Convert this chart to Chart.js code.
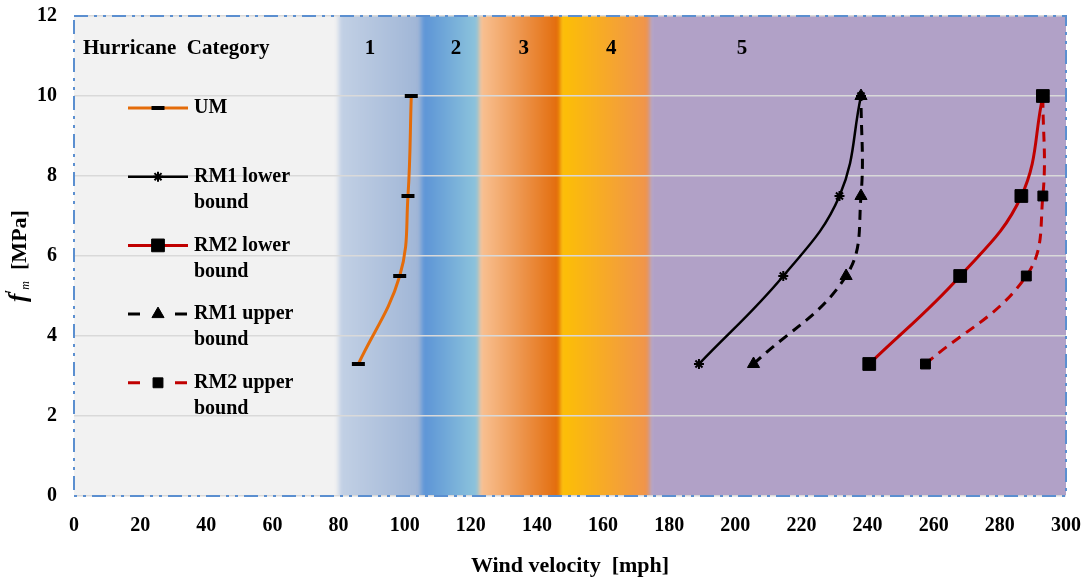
<!DOCTYPE html>
<html>
<head>
<meta charset="utf-8">
<script src="https://cdn.jsdelivr.net/npm/chart.js@4.4.1/dist/chart.umd.min.js"></script>
<style>
    html, body { margin: 0; padding: 0; background: #fff; }
</style>
</head>
<body>
<canvas id="graficoVento" width="1087" height="582"></canvas>
<script>
// f'm levels (MPa) shared by every series
const fm = [3.3, 5.5, 7.5, 10];
// wind velocity (mph) for each series, same order as fm
const umVento = [86, 98.5, 101, 102];
const rm1Inferior = [189, 214.5, 231.5, 238];
const rm2Inferior = [240.5, 268, 286.5, 293];
const rm1Superior = [205.5, 233.5, 238, 238];
const rm2Superior = [257.5, 288, 293, 293];

// hurricane category limits (mph) and their names
const limitesCategoria = [80, 105, 122.5, 147, 174, 300];
const categorias = ['1', '2', '3', '4', '5'];
// where each category number sits along the x axis
const posicaoCategoria = [89.5, 115.5, 136, 162.5, 202];

const coresFaixa = [
    ['#c3d1e5', '#9fb5d6'],
    ['#5a92d6', '#8fc6dc'],
    ['#f9c396', '#e26a08'],
    ['#fdc003', '#f0934e'],
    ['#b1a1c7', '#b1a1c7']
];

const serif = "'Times New Roman', 'Liberation Serif', serif";

function pontos(xs) {
    return fm.map((y, i) => ({ x: xs[i], y: y }));
}

// colored category bands behind the plot
const faixas = {
    id: 'faixas',
    beforeDraw(chart) {
        const { ctx, chartArea: a, scales: { x } } = chart;
        ctx.save();
        ctx.beginPath();
        ctx.rect(a.left, a.top, a.width, a.height);
        ctx.clip();
        ctx.filter = 'blur(2px)';
        ctx.fillStyle = '#f2f2f2';
        const x0 = x.getPixelForValue(limitesCategoria[0]);
        ctx.fillRect(a.left - 20, a.top - 20, x0 - a.left + 24, a.height + 40);
        for (let i = 0; i < categorias.length; i++) {
            const xa = x.getPixelForValue(limitesCategoria[i]);
            const xb = x.getPixelForValue(limitesCategoria[i + 1]);
            const g = ctx.createLinearGradient(xa, 0, xb, 0);
            g.addColorStop(0, coresFaixa[i][0]);
            g.addColorStop(1, coresFaixa[i][1]);
            ctx.fillStyle = g;
            const extra = i === categorias.length - 1 ? 20 : 4;
            ctx.fillRect(xa, a.top - 20, xb - xa + extra, a.height + 40);
        }
        ctx.restore();
    }
};

// dash-dot frame, legend, category numbers and axis titles
const textos = {
    id: 'textos',
    afterDraw(chart) {
        const { ctx, chartArea: a, scales: { x } } = chart;
        ctx.save();

        ctx.strokeStyle = '#5b8fd0';
        ctx.lineWidth = 2;
        ctx.setLineDash([14, 6, 3, 6, 3, 6]);
        ctx.strokeRect(a.left, a.top, a.width, a.height);
        ctx.setLineDash([]);

        ctx.fillStyle = '#000';
        ctx.textBaseline = 'middle';
        ctx.font = 'bold 21px ' + serif;
        ctx.textAlign = 'left';
        ctx.fillText('Hurricane  Category', 83, 49);
        ctx.textAlign = 'center';
        categorias.forEach((c, i) => {
            ctx.fillText(c, x.getPixelForValue(posicaoCategoria[i]), 49);
        });

        // legend
        chart.data.datasets.forEach((ds, i) => {
            const y = 108 + i * 68.7;
            ctx.save();
            ctx.strokeStyle = ds.borderColor;
            ctx.lineWidth = ds.borderWidth;
            ctx.setLineDash(ds.borderDash ? [12, 35] : []);
            ctx.beginPath();
            ctx.moveTo(128, y);
            ctx.lineTo(188, y);
            ctx.stroke();
            ctx.setLineDash([]);
            ctx.strokeStyle = ds.pointBorderColor;
            ctx.fillStyle = ds.pointBackgroundColor;
            ctx.lineWidth = ds.pointBorderWidth;
            Chart.helpers.drawPoint(ctx, {
                pointStyle: ds.pointStyle,
                radius: ds.pointRadius,
                borderWidth: ds.pointBorderWidth,
                rotation: 0
            }, 158, y);
            ctx.restore();

            ctx.fillStyle = '#000';
            ctx.font = 'bold 20px ' + serif;
            ctx.textAlign = 'left';
            const corte = ds.label.lastIndexOf(' bound');
            if (corte > 0) {
                ctx.fillText(ds.label.slice(0, corte), 194, y);
                ctx.fillText('bound', 194, y + 26);
            } else {
                ctx.fillText(ds.label, 194, y);
            }
        });

        // x axis title
        ctx.textAlign = 'center';
        ctx.font = 'bold 22px ' + serif;
        ctx.fillText('Wind velocity  [mph]', (a.left + a.right) / 2, 566);

        // y axis title: f'm [MPa]
        const partes = [
            { t: 'f', f: 'italic bold 25px ' + serif, dy: 0 },
            { t: '\u2032', f: 'bold 14px ' + serif, dy: -9 },
            { t: 'm', f: 'italic 12px ' + serif, dy: 6 },
            { t: '  [MPa]', f: 'bold 22px ' + serif, dy: 0 }
        ];
        let total = 0;
        partes.forEach(p => { ctx.font = p.f; p.w = ctx.measureText(p.t).width; total += p.w; });
        ctx.translate(20, (a.top + a.bottom) / 2);
        ctx.rotate(-Math.PI / 2);
        ctx.textAlign = 'left';
        let px = -total / 2;
        partes.forEach(p => {
            ctx.font = p.f;
            ctx.fillText(p.t, px, p.dy);
            px += p.w;
        });

        ctx.restore();
    }
};

const ctx = document.getElementById('graficoVento').getContext('2d');

const graficoVento = new Chart(ctx, {
    type: 'scatter',
    data: {
        datasets: [
            {
                label: 'UM',
                data: pontos(umVento),
                showLine: true,
                tension: 0.4,
                borderColor: '#e46c0a',
                borderWidth: 3,
                pointStyle: 'line',
                pointRadius: 6.5,
                pointBorderWidth: 4,
                pointBorderColor: '#000',
                pointBackgroundColor: '#000'
            },
            {
                label: 'RM1 lower bound',
                data: pontos(rm1Inferior),
                showLine: true,
                tension: 0.4,
                borderColor: '#000',
                borderWidth: 2.5,
                pointStyle: 'star',
                pointRadius: 5,
                pointBorderWidth: 2,
                pointBorderColor: '#000',
                pointBackgroundColor: '#000'
            },
            {
                label: 'RM2 lower bound',
                data: pontos(rm2Inferior),
                showLine: true,
                tension: 0.4,
                borderColor: '#c00000',
                borderWidth: 3,
                pointStyle: 'rect',
                pointRadius: 9,
                pointBorderWidth: 1,
                pointBorderColor: '#000',
                pointBackgroundColor: '#000'
            },
            {
                label: 'RM1 upper bound',
                data: pontos(rm1Superior),
                showLine: true,
                tension: 0.4,
                borderColor: '#000',
                borderWidth: 3,
                borderDash: [10, 7],
                pointStyle: 'triangle',
                pointRadius: 7,
                pointBorderWidth: 1,
                pointBorderColor: '#000',
                pointBackgroundColor: '#000'
            },
            {
                label: 'RM2 upper bound',
                data: pontos(rm2Superior),
                showLine: true,
                tension: 0.4,
                borderColor: '#c00000',
                borderWidth: 3,
                borderDash: [10, 7],
                pointStyle: 'rect',
                pointRadius: 7,
                pointBorderWidth: 1,
                pointBorderColor: '#000',
                pointBackgroundColor: '#000'
            }
        ]
    },
    options: {
        responsive: false,
        animation: false,
        events: [],
        layout: {
            autoPadding: false,
            padding: { top: 16, right: 21, left: 0, bottom: 0 }
        },
        plugins: {
            legend: { display: false },
            tooltip: { enabled: false }
        },
        scales: {
            x: {
                type: 'linear',
                min: 0,
                max: 300,
                afterFit: (s) => {
                    s.height = 86;
                    s.paddingLeft = 0;
                    s.paddingRight = 0;
                },
                ticks: {
                    stepSize: 20,
                    padding: 10,
                    color: '#000',
                    maxRotation: 0,
                    font: { family: serif, size: 20, weight: 'bold' }
                },
                grid: { display: false },
                border: { display: false }
            },
            y: {
                min: 0,
                max: 12,
                afterFit: (s) => {
                    s.width = 74;
                    s.paddingTop = 0;
                    s.paddingBottom = 0;
                },
                ticks: {
                    stepSize: 2,
                    padding: 17,
                    color: '#000',
                    font: { family: serif, size: 20, weight: 'bold' }
                },
                grid: { color: '#d9d9d9', lineWidth: 1.5, drawTicks: false },
                border: { display: false }
            }
        }
    },
    plugins: [faixas, textos]
});
</script>
</body>
</html>
